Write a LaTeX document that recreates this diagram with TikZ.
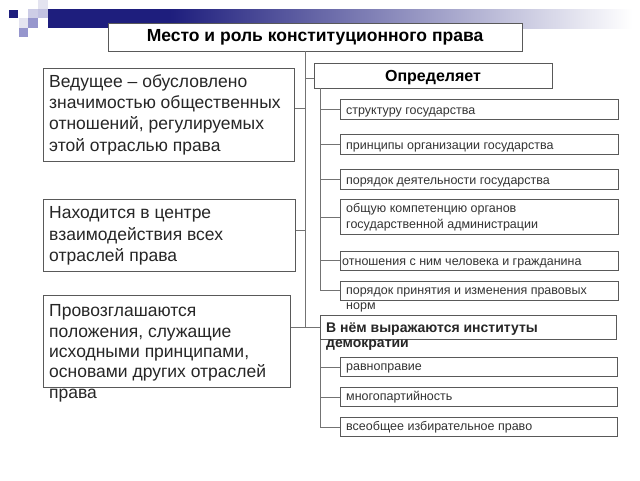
\documentclass[tikz,border=0pt]{standalone}
\usepackage{fontspec}
\setmainfont{Liberation Sans}
\definecolor{navy}{RGB}{30,30,125}
\definecolor{lilac}{RGB}{150,150,205}
\definecolor{pale}{RGB}{205,205,230}
\definecolor{frost}{RGB}{228,228,240}

\begin{document}
\begin{tikzpicture}[x=1pt,y=-1pt,
frame/.style={
  draw=black!65,
  line width=0.9pt,
  fill=white,
  inner sep=0pt,
  anchor=north west
},
wire/.style={
  draw=black!55,
  line width=0.9pt
},
bigtext/.style={
  font=\fontsize{17.5}{21.3}\selectfont,
  text=black!85,
  align=left,
  inner sep=0pt,
  anchor=base west
},
smalltext/.style={
  font=\fontsize{12.5}{15.5}\selectfont,
  text=black!80,
  align=left,
  inner sep=0pt,
  anchor=base west
},
headtext/.style={
  font=\bfseries\fontsize{17.5}{19}\selectfont
}
]
\useasboundingbox (0,0) rectangle (640,480);

\fill[navy] (9,10) rectangle (18,18);
\fill[frost] (38,0) rectangle (48,9);
\fill[pale] (28,9) rectangle (38,18);
\fill[pale!80!lilac] (38,9) rectangle (48,18);
\fill[frost] (19,18) rectangle (28,28);
\fill[lilac] (28,18) rectangle (38,28);
\fill[lilac] (19,28) rectangle (28,37);
\fill[navy] (48,9) rectangle (170,28);
\shade[left color=navy, right color=white] (170,9) rectangle (632,28);

\node[frame, anchor=center, minimum width=414pt, minimum height=28pt, headtext]
  (title) at (315,37) {Место и роль конституционного права};
\node[frame, anchor=center, minimum width=238pt, minimum height=25pt, text depth=0pt,
  font=\bfseries\fontsize{16}{18}\selectfont]
  (defines) at (433,75.5) {Определяет};

\node[frame, minimum width=251pt, minimum height=93pt] (lead) at (43,68) {};
\node[bigtext] (leadtxt) at (49,151)
  {Ведущее – обусловлено\\значимостью общественных\\отношений, регулируемых\\этой отраслью права};
\node[frame, minimum width=252pt, minimum height=72pt] (centre) at (43,199) {};
\node[bigtext] (centretxt) at (49,261.5)
  {Находится в центре\\взаимодействия всех\\отраслей права};
\node[frame, minimum width=247pt, minimum height=92pt] (claim) at (43,295) {};
\node[bigtext, font=\fontsize{17.5}{20.3}\selectfont] (claimtxt) at (49,398)
  {Провозглашаются\\положения, служащие\\исходными принципами,\\основами других отраслей\\права};

\node[frame, minimum width=278pt, minimum height=19.5pt] (s1) at (340,99) {};
\node[frame, minimum width=278pt, minimum height=20pt] (s2) at (340,134) {};
\node[frame, minimum width=278pt, minimum height=20pt] (s3) at (340,169) {};
\node[frame, minimum width=278pt, minimum height=35pt] (s4) at (340,199) {};
\node[frame, minimum width=278pt, minimum height=18.5pt] (s5) at (340,251) {};
\node[frame, minimum width=278pt, minimum height=18.5pt] (s6) at (340,281) {};
\node[smalltext] (s1txt) at ([shift={(6,15)}]s1.north west) {структуру государства};
\node[smalltext] (s2txt) at ([shift={(6,15)}]s2.north west) {принципы организации государства};
\node[smalltext] (s3txt) at ([shift={(6,15)}]s3.north west) {порядок деятельности государства};
\node[smalltext] (s4txt) at ([shift={(6,29)}]s4.north west)
  {общую компетенцию органов\\государственной администрации};
\node[smalltext] (s5txt) at ([shift={(2,14)}]s5.north west) {отношения с ним человека и гражданина};
\node[smalltext] (s6txt) at ([shift={(6,28.5)}]s6.north west)
  {порядок принятия и изменения правовых\\норм};

\node[frame, minimum width=296pt, minimum height=24pt] (inst) at (320,315) {};
\node[bigtext, font=\bfseries\fontsize{14}{15.5}\selectfont] (insttxt) at (326,347.5)
  {В нём выражаются институты\\демократии};
\node[frame, minimum width=277pt, minimum height=19pt] (t1) at (340,357) {};
\node[frame, minimum width=277pt, minimum height=19pt] (t2) at (340,387) {};
\node[frame, minimum width=277pt, minimum height=19pt] (t3) at (340,417) {};
\node[smalltext] (t1txt) at ([shift={(6,13.5)}]t1.north west) {равноправие};
\node[smalltext] (t2txt) at ([shift={(6,13.5)}]t2.north west) {многопартийность};
\node[smalltext] (t3txt) at ([shift={(6,13.5)}]t3.north west) {всеобщее избирательное право};

\coordinate (tr) at (305,0);
\coordinate (st) at (320,0);

\draw[wire] (title.south -| tr) -- (inst.west -| tr);
\draw[wire] ([yshift=6.5pt]lead.east) -- ([yshift=6.5pt]lead.east -| tr);
\draw[wire] ([yshift=5pt]centre.east) -- ([yshift=5pt]centre.east -| tr);
\draw[wire] (inst.west -| claim.east) -- (inst.west);
\draw[wire] ([yshift=-3pt]defines.west -| tr) -- ([yshift=-3pt]defines.west);

\draw[wire] (defines.south -| st) -- (s6.west -| st) -- (s6.west);
\foreach \b in {s1,s2,s3,s4,s5}
  \draw[wire] (\b.west -| st) -- (\b.west);

\draw[wire] (inst.south west) -- (t3.west -| inst.south west) -- (t3.west);
\foreach \b in {t1,t2}
  \draw[wire] (\b.west -| inst.south west) -- (\b.west);
\end{tikzpicture}
\end{document}
